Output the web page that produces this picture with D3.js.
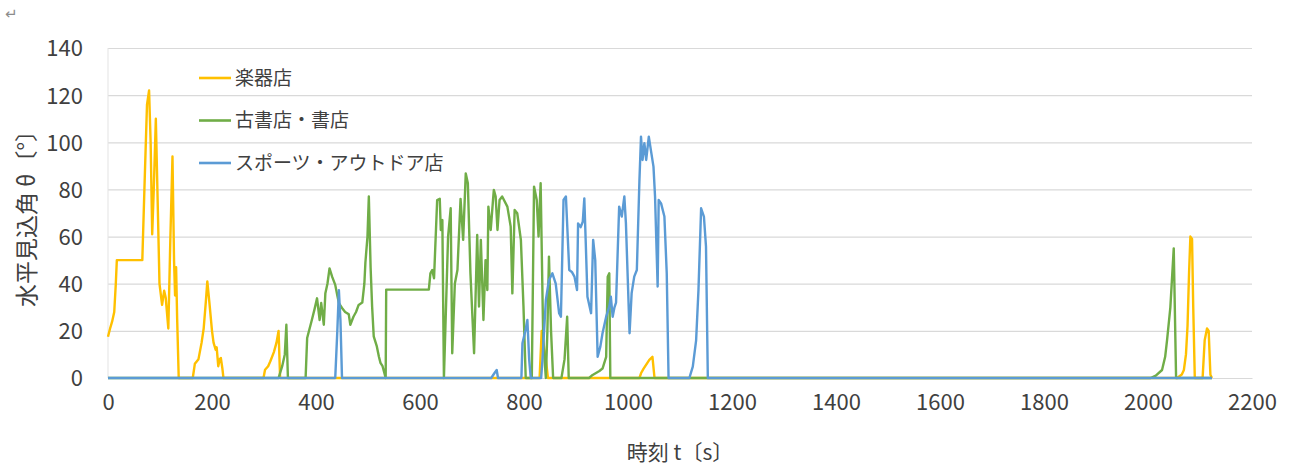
<!DOCTYPE html>
<html>
<head>
<meta charset="utf-8">
<script src="https://cdn.jsdelivr.net/npm/d3@7"></script>
<style>
  body { margin: 0; background: #fff; }
  svg { display: block; }
  .tick text { font-family: "Noto Sans CJK JP", "Noto Sans", sans-serif; }
</style>
</head>
<body>
<div id="chart"></div>
<script>
// horizontal viewing angle over time, three shop types

// series names (legend order)
var seriesNames = ["楽器店", "古書店・書店", "スポーツ・アウトドア店"];

// [time s, angle deg]
var musicShop = [
  [0,17.5],[4,21],[8,24],[12,28],[15,40],[17,50],[66,50],[70,80],[75,116],[79,122],[82,100],
  [85,61],[88,80],[92,110],[95,80],[99,40],[104,31],[108,37],[111,34],[116,21],[120,60],
  [124,94],[127,50],[129,35],[131,47],[133,25],[136,0],
  [163,0],[167,6],[174,8],[180,15],[184,21],[188,32],[191,41],[195,32],[200,20],[203,15],
  [207,12],[209,13],[212,5],[215,8],[217,8.5],[220,4],[222,0],
  [299,0],[302,3.5],[308,5],[312,7],[319,11],[324,15],[328,20],[331,0],
  [830,0],[834,20],[838,14],[842,8],[846,0],
  [1022,0],[1025,2],[1030,4],[1041,7.7],[1047,9],[1051,0],
  [2056,0],[2065,1.5],[2069,3.4],[2073,10],[2076,22],[2079,45],[2081.5,60],[2084.7,59],
  [2087,30],[2090,0],[2105,0],[2109,16],[2113.5,21],[2116.7,20],[2120,1.4],[2123,0]
];

var bookShop = [
  [0,0],[328,0],[335,5],[340,10],[343,22.6],[346,0],
  [380,0],[383,17],[392,24.6],[397,29],[402,33.8],[407,24.6],[410,31.8],[415,22.6],[418,36],
  [422,40],[426,46.5],[431,43],[437,39.5],[441,35],[444,31.8],[450,29.7],[456,28],[463,27],
  [466,22.6],[472,26],[477,28],[482,31],[489,32],[493,40],[495,49],[499,60],[501.6,77],
  [505,47],[508,30],[511,17.7],[517,13.4],[521,9],[524,6.4],[528,5],[534,0],
  [535,37.5],[617,37.5],[620,44.4],[623.5,45.8],[627,42.3],[633,75.5],[638,76],[640,62.8],
  [643,67],[646,0],[654,60],[659,72],[662,10.5],[667,40],[672,45.8],[678,76],[683,58.6],
  [688,86.8],[692,82.6],[697,44.4],[704,10.5],[710,60.7],[713.5,30.3],[717,58.6],[722,24.6],
  [726,50],[729.5,37.3],[731.5,72.7],[736,62.8],[740.4,75.5],[742,79.8],[745.5,77],[749,62.8],
  [753,75.5],[758,77],[768,72.7],[774.4,64.2],[777.6,35.9],[782,71.3],[787,69.9],[794,58.6],
  [799,30.3],[803.3,0],[815,0],[819.3,81.2],[824.5,75.5],[828,60],[832,82.6],[837,16],
  [842,0],[845,20],[848,51.5],[852,20],[856,0],[872,0],[878,8],[883,26],[886,0],
  [925,0],[932,1.3],[945,3],[951,4],[958,9],[961,43],[964,44.4],[966,0],
  [2005,0],[2015,1],[2027,3.4],[2033,9],[2036.6,16],[2043,30],[2049.5,55],[2054,0],[2123,0]
];

var outdoorShop = [
  [0,0],[437,0],[441,20],[444,37.3],[447,24.6],[450,0],[737,0],[743,2],[747.5,3.4],[750,0],
  [795,0],[797,14.7],[803,20.4],[806.5,24.6],[810,7.7],[813,0],[833,0],[835.5,7.7],[842,33],
  [848,41.6],[854.6,44.4],[861,40],[867.5,27.5],[871,26],[876,75.5],[880.6,77],[887,45.8],
  [892,45],[897,43],[902,37.3],[904,65.6],[909,64],[913,66.3],[916,76.2],[919,55.7],
  [922,34.5],[929,27.5],[933,58.6],[937,50],[941.6,9],[946.8,13.3],[951,19],[958,26],
  [964,30.3],[967,34.5],[970.5,26],[974,30],[977,32],[983,72.7],[988,68.5],[993,77],
  [996,65.6],[1003,19],[1007,36],[1012,43],[1017,45.8],[1022,84],[1025,102.4],[1028,92.5],
  [1031.5,99.6],[1035,92.5],[1040,102.4],[1044,96.7],[1049,89.7],[1052,77],[1057,38.8],
  [1059,75.5],[1063.6,74.1],[1070,68.5],[1074.5,44.4],[1078,0],[1118,0],[1124.6,4.8],
  [1131,16],[1135.5,37.3],[1140.6,72],[1146,68.5],[1150,55.7],[1153.5,0],[2123,0]
];

var xTicks = [0,200,400,600,800,1000,1200,1400,1600,1800,2000,2200];
var yTicks = [0,20,40,60,80,100,120,140];

var colors = ["#FFC000", "#70AD47", "#5B9BD5"];
var series = [musicShop, bookShop, outdoorShop];

var width = 1290, height = 466;
var margin = {top: 48, right: 38, bottom: 88, left: 108};

var x = d3.scaleLinear().domain([0, 2200]).range([margin.left, width - margin.right]);
var y = d3.scaleLinear().domain([0, 140]).range([height - margin.bottom, margin.top]);

var svg = d3.select("#chart").append("svg")
  .attr("width", width)
  .attr("height", height);

// return mark from the source document
svg.append("text")
  .attr("x", 5).attr("y", 19)
  .attr("font-family", "DejaVu Sans")
  .attr("font-size", 15)
  .attr("fill", "#8c8c8c")
  .text("↵");

// gridlines
svg.append("g")
  .attr("transform", "translate(" + margin.left + ",0)")
  .call(d3.axisLeft(y).tickValues(yTicks).tickSize(-(width - margin.left - margin.right)).tickFormat(""))
  .call(function(g) {
    g.select(".domain").remove();
    g.selectAll(".tick line").attr("stroke", "#d9d9d9").attr("stroke-width", 1.2);
  });

// left border line
svg.append("line")
  .attr("x1", margin.left).attr("x2", margin.left)
  .attr("y1", y(140)).attr("y2", y(0))
  .attr("stroke", "#e3e3e3").attr("stroke-width", 1);

// y tick labels
svg.append("g")
  .attr("transform", "translate(" + (margin.left - 22) + ",0)")
  .call(d3.axisLeft(y).tickValues(yTicks).tickSize(0))
  .call(function(g) {
    g.select(".domain").remove();
    g.selectAll(".tick text").attr("font-size", 22).attr("fill", "#404040").attr("dy", "0.36em");
  });

// x axis
svg.append("g")
  .attr("transform", "translate(0," + y(0) + ")")
  .call(d3.axisBottom(x).tickValues(xTicks).tickSize(0).tickPadding(16).tickFormat(d3.format("d")))
  .call(function(g) {
    g.select(".domain").attr("stroke", "#d9d9d9").attr("stroke-width", 1.2);
    g.selectAll(".tick text").attr("font-size", 22).attr("fill", "#404040");
  });

var line = d3.line()
  .x(function(d) { return x(d[0]); })
  .y(function(d) { return y(d[1]); });

series.forEach(function(s, i) {
  svg.append("path")
    .datum(s)
    .attr("fill", "none")
    .attr("stroke", colors[i])
    .attr("stroke-width", 2.4)
    .attr("stroke-linejoin", "round")
    .attr("d", line);
});

// legend
var legend = svg.append("g").attr("transform", "translate(199,78)");
seriesNames.forEach(function(name, i) {
  var row = legend.append("g").attr("transform", "translate(0," + (i * 42.5) + ")");
  row.append("line")
    .attr("x1", 0).attr("x2", 32)
    .attr("stroke", colors[i]).attr("stroke-width", 2.6);
  row.append("text")
    .attr("x", 36).attr("dy", "0.36em")
    .attr("font-family", "Noto Sans CJK JP")
    .attr("font-size", 19)
    .attr("fill", "#404040")
    .text(name);
});

// axis titles
svg.append("text")
  .attr("transform", "translate(27," + ((y(0) + y(140)) / 2) + ") rotate(-90)")
  .attr("text-anchor", "middle")
  .attr("dy", "0.35em")
  .attr("font-family", "Noto Sans CJK JP")
  .attr("font-size", 23)
  .attr("fill", "#404040")
  .text("水平見込角 θ〔°〕");

svg.append("text")
  .attr("x", (x(0) + x(2200)) / 2)
  .attr("y", 460)
  .attr("text-anchor", "middle")
  .attr("font-family", "Noto Sans CJK JP")
  .attr("font-size", 21)
  .attr("fill", "#404040")
  .text("時刻 t〔s〕");
</script>
</body>
</html>
